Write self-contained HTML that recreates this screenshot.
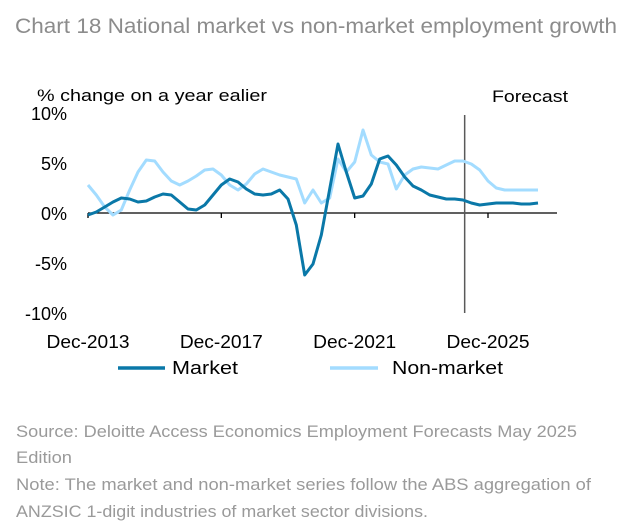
<!DOCTYPE html>
<html><head><meta charset="utf-8"><style>
body{margin:0;background:#fff;}
svg{display:block;font-family:"Liberation Sans",sans-serif;}
</style></head><body>
<svg id="chart" width="633" height="525" viewBox="0 0 633 525">
<text x="15" y="33" font-size="21" fill="#8c8c8c" textLength="602" lengthAdjust="spacingAndGlyphs">Chart 18 National market vs non-market employment growth</text>
<text x="37" y="101" font-size="17" fill="#000" textLength="230" lengthAdjust="spacingAndGlyphs">% change on a year ealier</text>
<text x="492" y="102" font-size="17" fill="#000" textLength="76" lengthAdjust="spacingAndGlyphs">Forecast</text>
<g id="yticks"></g><g id="xticks"></g><g id="series"></g>
<g>
<line x1="118" y1="368" x2="165" y2="368" stroke="#0a78a8" stroke-width="3.5"/>
<text x="172" y="374" font-size="18" textLength="66" lengthAdjust="spacingAndGlyphs">Market</text>
<line x1="330" y1="368" x2="378" y2="368" stroke="#a3dcff" stroke-width="3.5"/>
<text x="392" y="374" font-size="18" textLength="111" lengthAdjust="spacingAndGlyphs">Non-market</text>
</g>
<g font-size="17" fill="#9a9a9a">
<text x="16" y="437" textLength="561" lengthAdjust="spacingAndGlyphs">Source: Deloitte Access Economics Employment Forecasts May 2025</text>
<text x="16" y="463" textLength="56" lengthAdjust="spacingAndGlyphs">Edition</text>
<text x="16" y="490" textLength="575" lengthAdjust="spacingAndGlyphs">Note: The market and non-market series follow the ABS aggregation of</text>
<text x="16" y="517" textLength="412" lengthAdjust="spacingAndGlyphs">ANZSIC 1-digit industries of market sector divisions.</text>
</g>
</svg>
<script>
const market=[-0.2,0.1,0.6,1.1,1.5,1.4,1.1,1.2,1.6,1.9,1.8,1.1,0.4,0.3,0.8,1.8,2.8,3.4,3.1,2.4,1.9,1.8,1.9,2.3,1.4,-1.2,-6.2,-5.1,-2.2,2.4,6.9,4.1,1.5,1.7,2.9,5.4,5.7,4.8,3.6,2.7,2.3,1.8,1.6,1.4,1.4,1.3,1.0,0.8,0.9,1.0,1.0,1.0,0.9,0.9,1.0];
const nonMarket=[2.8,1.8,0.6,-0.2,0.3,2.3,4.1,5.3,5.2,4.1,3.2,2.8,3.2,3.7,4.3,4.4,3.8,2.8,2.3,2.9,3.9,4.4,4.1,3.8,3.6,3.4,1.0,2.3,1.0,1.5,5.4,4.1,5.1,8.3,5.8,5.1,4.9,2.4,3.8,4.4,4.6,4.5,4.4,4.8,5.2,5.2,4.9,4.3,3.2,2.5,2.3,2.3,2.3,2.3,2.3];
const yTicks=[10,5,0,-5,-10];
const yTickLabels=["10%","5%","0%","-5%","-10%"];
const xTickIdx=[0,16,32,48];
const xTickLabels=["Dec-2013","Dec-2017","Dec-2021","Dec-2025"];
const forecastIdx=45.2;
const NS="http://www.w3.org/2000/svg";
const X=i=>88+i*(400/48);
const Y=v=>213-v*10;
function mk(tag,attrs,parent){const e=document.createElementNS(NS,tag);for(const k in attrs)e.setAttribute(k,attrs[k]);parent.appendChild(e);return e;}
const yg=document.getElementById('yticks'),xg=document.getElementById('xticks'),sg=document.getElementById('series');
yTicks.forEach((v,k)=>{const t=mk('text',{x:67,y:Y(v)+7,'font-size':18,'text-anchor':'end'},yg);


t.textContent=yTickLabels[k];});
const ax=mk('line',{x1:X(0),y1:Y(0),x2:557,y2:Y(0),stroke:'#000','stroke-width':1.3},xg);


xTickIdx.forEach((i,k)=>{const l=mk('line',{x1:X(i),y1:Y(0),x2:X(i),y2:Y(0)+5,stroke:'#000','stroke-width':1.3},xg);


const t=mk('text',{x:X(i),y:348,'font-size':18,'text-anchor':'middle',textLength:83,lengthAdjust:'spacingAndGlyphs'},xg);


t.textContent=xTickLabels[k];});
const fl=mk('line',{x1:X(forecastIdx),y1:115,x2:X(forecastIdx),y2:313,stroke:'#595959','stroke-width':1.5},sg);


function path(arr,color,name){const d=arr.map((v,i)=>(i?'L':'M')+X(i).toFixed(1)+','+Y(v).toFixed(1)).join('');
const p=mk('path',{d:d,fill:'none',stroke:color,'stroke-width':3,'stroke-linejoin':'round'},sg);

}
path(nonMarket,'#a3dcff','non-market-line');
path(market,'#0a78a8','market-line');
</script>
</body></html>
